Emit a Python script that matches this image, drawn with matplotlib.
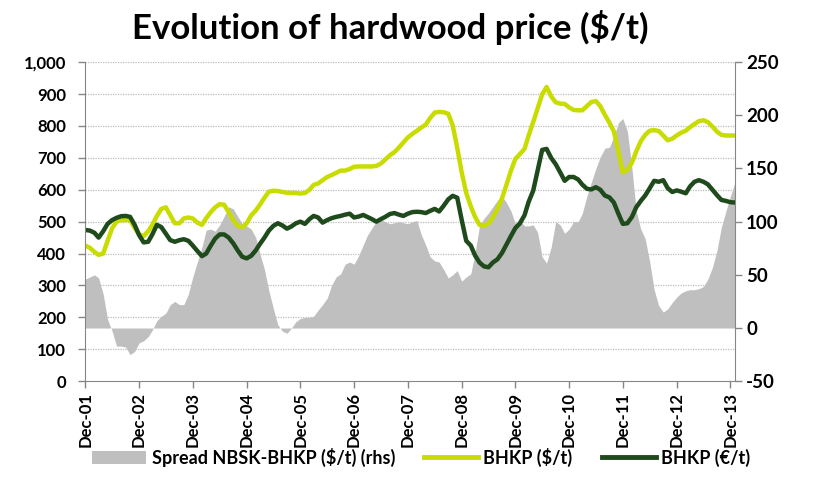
import matplotlib
matplotlib.use("Agg")
import matplotlib.pyplot as plt
from matplotlib.patches import Patch
from matplotlib.lines import Line2D
import pandas as pd

# monthly series, Dec-01 .. Jan-14
months = pd.date_range("2001-12-01", periods=146, freq="MS")

bhkp_usd = [
    425, 418, 405, 396, 400, 440, 480, 500, 505, 505,
    505, 480, 460, 455, 470, 490, 518, 540, 545, 520,
    495, 495, 510, 513, 510, 497, 490, 511, 530, 545,
    555, 553, 530, 505, 487, 482, 495, 520, 535, 553,
    575, 594, 597, 596, 593, 591, 590, 590, 588, 590,
    600, 615, 620, 630, 640, 646, 653, 660, 660, 665,
    672, 673, 673, 673, 673, 675, 682, 695, 708, 718,
    732, 748, 764, 775, 785, 795, 804, 825, 842, 844,
    843, 838, 802, 731, 655, 590, 548, 516, 490, 487,
    494, 513, 540, 573, 615, 660, 697, 712, 728, 770,
    812, 855, 899, 922, 893, 874, 870, 869, 858, 850,
    849, 849, 862, 875, 878, 862, 835, 810, 783, 720,
    655, 662, 685, 720, 752, 772, 785, 787, 784, 770,
    755, 760, 770, 779, 785, 796, 806, 815, 818, 812,
    798, 782, 772, 770, 770, 770,
]

bhkp_eur = [
    474, 472, 465, 450, 470, 493, 505, 512, 517, 518,
    515, 490, 458, 435, 437, 460, 490, 483, 462, 442,
    437, 442, 445, 440, 425, 408, 392, 400, 425, 447,
    460, 460, 450, 432, 410, 390, 385, 393, 410, 430,
    450, 472, 487, 495, 488, 478, 485, 495, 500, 493,
    508, 518, 513, 497, 505, 511, 515, 518, 522, 525,
    513, 516, 521, 515, 508, 500, 508, 515, 524, 527,
    522, 518, 525, 530, 531, 530, 527, 534, 540, 532,
    550, 570, 581, 575, 506, 440, 425, 395, 372, 360,
    357, 372, 382, 402, 428, 455, 480, 495, 520, 562,
    597, 660, 725, 728, 700, 680, 655, 628, 640, 640,
    632, 616, 603, 601, 608, 600, 582, 576, 560, 525,
    493, 495, 515, 545, 565, 582, 605, 628, 625, 630,
    605, 593, 598, 594, 589, 610, 625, 630, 625, 617,
    600, 583, 568, 565, 561, 560,
]

spread_rhs = [
    46, 48, 50, 47, 32, 8, -3, -17, -17, -18,
    -25, -22, -14, -12, -8, -2, 7, 11, 14, 22,
    25, 22, 22, 32, 48, 62, 76, 92, 93, 91,
    97, 105, 114, 112, 105, 98, 96, 93, 85, 70,
    55, 35, 18, 3, -3, -5, 0, 6, 9, 10,
    10, 11, 17, 22, 28, 40, 48, 51, 60, 62,
    60, 68, 78, 87, 94, 100, 102, 100, 98, 99,
    100, 99, 98, 100, 101, 88, 78, 67, 63, 62,
    55, 47, 50, 54, 44, 48, 51, 70, 96, 103,
    108, 114, 120, 124, 118, 110, 98, 101, 96, 96,
    97, 90, 67, 61, 76, 100, 97, 89, 93, 100,
    100, 108, 124, 137, 150, 161, 169, 170, 180, 193,
    197, 185, 150, 110, 93, 84, 62, 36, 21, 15,
    18, 24, 29, 33, 35, 36, 36, 37, 39, 46,
    57, 73, 95, 110, 124, 137,
]

left_ticks = list(range(0, 1001, 100))
right_ticks = list(range(-50, 251, 50))
tick_dates = pd.date_range("2001-12-01", "2013-12-01", freq="12MS")

LIME = "#C9DC00"
DARK = "#1E4A1C"
GREY = "#BFBFBF"
AXIS = "#868686"

plt.rcParams["font.family"] = "Lato"
plt.rcParams["font.weight"] = "bold"

fig = plt.figure(figsize=(8.13, 4.97), dpi=100)
ax = fig.add_axes([0.105, 0.233, 0.799, 0.642])
ax2 = ax.twinx()
# lines on top of the grey area
ax.set_zorder(ax2.get_zorder() + 1)
ax.patch.set_visible(False)

ax.set_ylim(0, 1000)
ax2.set_ylim(-50, 250)
ax.set_xlim(months[0], months[-1])

# gridlines follow the left scale but sit behind the area
for v in left_ticks[1:]:
    r = -50 + v * 300 / 1000
    ax2.axhline(r, color="#BDBDBD", lw=0.9, ls=(0, (1, 1)), zorder=0)

ax2.fill_between(months, 0, spread_rhs, color=GREY, lw=0, zorder=1)

ax.plot(months, bhkp_usd, color=LIME, lw=3.2, solid_capstyle="round",
        solid_joinstyle="round")
ax.plot(months, bhkp_eur, color=DARK, lw=3.2, solid_capstyle="round",
        solid_joinstyle="round")

ax.set_yticks(left_ticks)
ax.set_yticklabels([f"{v:,}" for v in left_ticks], fontsize=12, fontweight="bold")
ax2.set_yticks(right_ticks)
ax2.set_yticklabels([str(v) for v in right_ticks], fontsize=13.5, fontweight="bold")
ax.set_xticks(tick_dates)
ax.set_xticklabels([d.strftime("%b-%y") for d in tick_dates], rotation=90,
                   fontsize=12, fontweight="bold")

for a in (ax, ax2):
    a.spines["top"].set_visible(False)
    a.tick_params(direction="out", length=5, color=AXIS, width=1, pad=3)
ax.tick_params(axis="y", pad=9)
ax.spines["right"].set_visible(False)
ax2.spines["left"].set_visible(False)
ax2.spines["bottom"].set_visible(False)
ax.spines["left"].set_color(AXIS)
ax.spines["bottom"].set_color(AXIS)
ax2.spines["right"].set_color(AXIS)

fig.text(0.48, 0.944, "Evolution of hardwood price ($/t)", ha="center",
         va="center", fontsize=25, fontweight="bold")

handles = [
    Patch(facecolor=GREY, edgecolor="none"),
    Line2D([0], [0], color=LIME, lw=3.5),
    Line2D([0], [0], color=DARK, lw=3.5),
]
labels = ["Spread NBSK-BHKP ($/t) (rhs)", "BHKP ($/t)", "BHKP (\u20ac/t)"]
fig.legend(handles, labels, loc="center", bbox_to_anchor=(0.518, 0.08),
           ncol=3, frameon=False, prop={"size": 13, "weight": "bold"},
           handlelength=3.0, columnspacing=1.6, handletextpad=0.3,
           borderaxespad=0, borderpad=0)

fig.savefig("out.png", dpi=100)
